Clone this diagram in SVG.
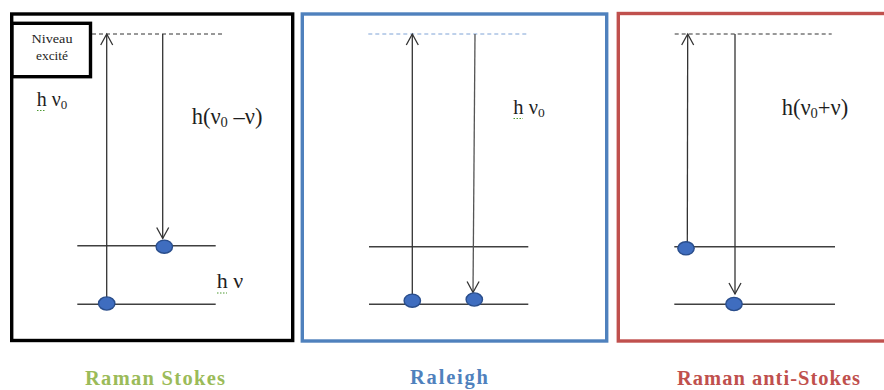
<svg xmlns="http://www.w3.org/2000/svg" width="884" height="390" viewBox="0 0 884 390">
  <defs>
    <marker id="open" markerUnits="userSpaceOnUse" markerWidth="14" markerHeight="14" viewBox="0 0 14 14" refX="12" refY="7" orient="auto">
      <path d="M1,1 L12,7 L1,13" fill="none" stroke="#333" stroke-width="1.3"/>
    </marker>
  </defs>
  <style>
    .frame { fill: none; stroke-width: 3.4; }
    .level { stroke: #404040; stroke-width: 1.4; }
    .dash { stroke: #333; stroke-width: 1; stroke-dasharray: 4 3; fill: none; }
    .dot { fill: #3F6DBF; stroke: #2A4E8C; stroke-width: 1.4; }
    .arrow { stroke: #333; stroke-width: 1.3; fill: none; marker-end: url(#open); }
    .lbl { fill: #1e1e1e; }
    .title { font-weight: bold; font-size: 20.5px; }
    .spell { stroke: #4E9A32; stroke-width: 1.2; stroke-dasharray: 1.5 1.5; }
  </style>
  <rect width="884" height="390" fill="#ffffff"/>

  <g font-family="'Liberation Serif', 'Times New Roman', 'DejaVu Serif', serif">
  <!-- Panel 1: Raman Stokes -->
  <g id="panel-stokes">
    <rect class="frame" x="11.7" y="14" width="281" height="326.5" stroke="#000"/>
    <g id="niveau-excite">
      <rect x="12" y="23.3" width="78.5" height="53.4" fill="#fff" stroke="#000" stroke-width="3.4"/>
      <text class="lbl" x="52" y="42.5" font-size="13.5" text-anchor="middle" textLength="41" lengthAdjust="spacingAndGlyphs">Niveau</text>
      <text class="lbl" x="52" y="60" font-size="13.5" text-anchor="middle" textLength="32" lengthAdjust="spacingAndGlyphs">excité</text>
    </g>
    <g id="stokes-excited-level"><line class="dash" x1="92" y1="34" x2="225" y2="34"/></g>
    <g id="stokes-level-v1"><line class="level" x1="77.3" y1="245.7" x2="215.7" y2="245.7"/></g>
    <g id="stokes-level-v0"><line class="level" x1="77.3" y1="304.3" x2="215.7" y2="304.3"/></g>
    <g id="stokes-label-hv0">
      <text class="lbl" x="36.7" y="105.7" font-size="20">h ν<tspan font-size="13" dy="3">0</tspan></text>
      <line class="spell" x1="37" y1="110.5" x2="46" y2="110.5"/>
    </g>
    <g id="stokes-label-hv0-v">
      <text class="lbl" x="191.7" y="124" font-size="22.5">h(ν<tspan font-size="14.5" dy="3">0</tspan><tspan dy="-3"> –ν)</tspan></text>
    </g>
    <g id="stokes-label-hv">
      <text class="lbl" x="216.7" y="288.3" font-size="22">h ν</text>
      <line class="spell" x1="217" y1="293" x2="227" y2="293"/>
    </g>
    <text class="title" x="155" y="385" text-anchor="middle" fill="#9BBB59" textLength="140" lengthAdjust="spacing">Raman Stokes</text>
  </g>

  <!-- Panel 2: Raleigh -->
  <g id="panel-raleigh">
    <rect class="frame" x="302.3" y="14" width="304.4" height="327" stroke="#4F81BD"/>
    <g id="raleigh-excited-level"><line class="dash" x1="368.3" y1="34" x2="527" y2="34" style="stroke:#7FA3D6"/></g>
    <g id="raleigh-level-v1"><line class="level" x1="369" y1="246.7" x2="528.3" y2="246.7"/></g>
    <g id="raleigh-level-v0"><line class="level" x1="369" y1="304.3" x2="528.3" y2="304.3"/></g>
    <g id="raleigh-label-hv0">
      <text class="lbl" x="513.3" y="114" font-size="20.5">h ν<tspan font-size="13.5" dy="3">0</tspan></text>
      <line class="spell" x1="513.5" y1="118.5" x2="523" y2="118.5"/>
    </g>
    <text class="title" x="449" y="384" text-anchor="middle" fill="#4F81BD" textLength="78" lengthAdjust="spacing">Raleigh</text>
  </g>

  <!-- Panel 3: Raman anti-Stokes -->
  <g id="panel-antistokes">
    <rect class="frame" x="618.3" y="13.5" width="290" height="327.5" stroke="#C0504D"/>
    <g id="anti-excited-level"><line class="dash" x1="674.7" y1="34" x2="831.7" y2="34"/></g>
    <g id="anti-level-v1"><line class="level" x1="674.3" y1="246.7" x2="835" y2="246.7"/></g>
    <g id="anti-level-v0"><line class="level" x1="674.3" y1="304.3" x2="835" y2="304.3"/></g>
    <g id="anti-label">
      <text class="lbl" x="781.7" y="115" font-size="22.5">h(ν<tspan font-size="14.5" dy="3">0</tspan><tspan dy="-3">+ν)</tspan></text>
    </g>
    <text class="title" x="768.5" y="385" text-anchor="middle" fill="#C0504D" textLength="183" lengthAdjust="spacing">Raman anti-Stokes</text>
  </g>
  </g>

  <!-- Connectors (transitions) -->
  <g id="connectors">
    <line class="arrow" x1="106.7" y1="303" x2="106.7" y2="34"/>
    <line class="arrow" x1="162.7" y1="34" x2="162.7" y2="238.5"/>
    <line class="arrow" x1="412.3" y1="300" x2="412.3" y2="34"/>
    <line class="arrow" x1="475" y1="34" x2="473" y2="292.5" style="stroke:#555"/>
    <line class="arrow" x1="687.3" y1="247" x2="687.7" y2="34"/>
    <line class="arrow" x1="735" y1="34" x2="735" y2="294"/>
  </g>

  <!-- Electrons (population dots) -->
  <g id="stokes-dot-v1"><ellipse class="dot" cx="164.3" cy="246.7" rx="8.2" ry="6.6"/></g>
  <g id="stokes-dot-v0"><ellipse class="dot" cx="106.7" cy="303.5" rx="8.2" ry="6.6"/></g>
  <g id="raleigh-dot-a"><ellipse class="dot" cx="412.3" cy="300.7" rx="8.2" ry="6.6"/></g>
  <g id="raleigh-dot-b"><ellipse class="dot" cx="474.3" cy="299.5" rx="8.2" ry="6.6"/></g>
  <g id="anti-dot-v1"><ellipse class="dot" cx="686" cy="248.3" rx="8.2" ry="6.6"/></g>
  <g id="anti-dot-v0"><ellipse class="dot" cx="734" cy="304" rx="8.2" ry="6.6"/></g>
</svg>
